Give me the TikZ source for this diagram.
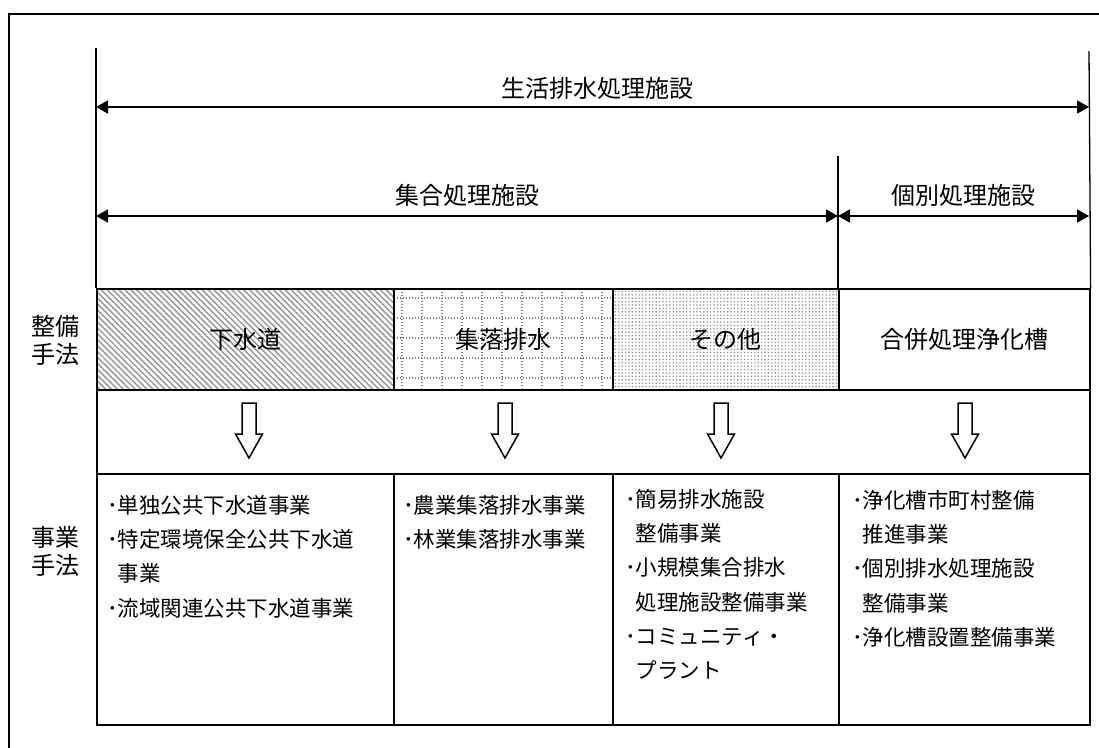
\documentclass[tikz,border=0pt]{standalone}
\usepackage{fontspec}
\newfontfamily\jp{Noto Sans CJK JP}
\usetikzlibrary{arrows.meta,patterns,patterns.meta}

\begin{document}
\begin{tikzpicture}[x=1pt,y=-1pt,>={Triangle[length=12pt,width=13pt]},
  every node/.style={font=\jp\fontsize{24}{28}\selectfont},
  cell/.style={draw,line width=1.6pt,inner sep=0pt,anchor=north west},
  item/.style={font=\jp\fontsize{21.5}{34.3}\selectfont,align=left,anchor=north west,inner sep=0pt},
  bigarrow/.style={draw,line width=1.5pt,fill=white,line join=miter}]
  \useasboundingbox (0,0) rectangle (1099,747);
  \draw[line width=1.3pt] (9,760) -- (9,14) -- (1110,14); % frame

  \coordinate (hidari) at (96,48);   % left edge
  \coordinate (migi) at (1089,51);   % right edge
  \coordinate (naka) at (838,156);   % split
  \coordinate (zenL) at (96,107);
  \coordinate (zenR) at (1089,107);
  \coordinate (shuL) at (96,216);
  \coordinate (shuR) at (838,216);
  \coordinate (kobR) at (1089,216);

  % dotted grid behind the second box
  \foreach \gx in {402,422,...,602}
    \draw[gray,line width=1.3pt,dash pattern=on 1.3pt off 1.7pt] (\gx,289) -- (\gx,388);
  \foreach \gy in {298,318,338,358,378}
    \draw[gray,line width=1.3pt,dash pattern=on 1.3pt off 1.7pt] (394,\gy) -- (611,\gy);

  \node[cell,pattern={Lines[angle=-45,distance=4.2pt,line width=1.4pt]},pattern color=gray!85,
    minimum width=297,minimum height=101] (gesuido) at (96,288) {下水道};
  \node[cell,minimum width=219,minimum height=101] (shuraku) at (393,288) {集落排水};
  \node[cell,pattern={Dots[radius=0.85pt,distance=3.4pt]},pattern color=gray!85,
    minimum width=226,minimum height=101] (sonota) at (612,288) {その他};
  \node[cell,minimum width=251,minimum height=101] (gappei) at (838,288) {合併処理浄化槽};
  \node[cell,minimum width=993,minimum height=84] (yajirushi) at (96,389) {};
  \node[cell,minimum width=297,minimum height=251] (jigyo1) at (96,473) {};
  \node[cell,minimum width=219,minimum height=251] (jigyo2) at (393,473) {};
  \node[cell,minimum width=226,minimum height=251] (jigyo3) at (612,473) {};
  \node[cell,minimum width=251,minimum height=251] (jigyo4) at (838,473) {};

  \draw[line width=1.3pt] (hidari) -- (gesuido.north west);
  \draw[line width=1.3pt] (migi) -- (gappei.north east);
  \draw[line width=1.3pt] (naka) -- (gappei.north west);

  \draw[<->,line width=1.8pt] (zenL) -- (zenR) node[midway,yshift=19pt,xshift=4.5pt] (seikatsu) {生活排水処理施設};
  \draw[<->,line width=1.8pt] (shuL) -- (shuR) node[midway,yshift=21pt] (shugo) {集合処理施設};
  \draw[<->,line width=1.8pt] (shuR) -- (kobR) node[midway,yshift=21pt] (kobetsu) {個別処理施設};

  \foreach \cx in {249,505,721,965}
    \draw[bigarrow] (\cx-7,403) -- (\cx+7,403) -- (\cx+7,434) -- (\cx+13.5,434)
      -- (\cx,458) -- (\cx-13.5,434) -- (\cx-7,434) -- cycle;

  \node[align=center] (seibi) at (55,340) {整備\\手法};
  \node[align=center] (jigyo) at (55,551) {事業\\手法};

  \node[item] (naiyo1) at (107,495) {･単独公共下水道事業\\･特定環境保全公共下水道\\\hphantom{･}事業\\･流域関連公共下水道事業};
  \node[item] (naiyo2) at (403,495) {･農業集落排水事業\\･林業集落排水事業};
  \node[item] (naiyo3) at (625,489) {･簡易排水施設\\\hphantom{･}整備事業\\･小規模集合排水\\\hphantom{･}処理施設整備事業\\･コミュニティ・\\\hphantom{･}プラント};
  \node[item] (naiyo4) at (852,490) {･浄化槽市町村整備\\\hphantom{･}推進事業\\･個別排水処理施設\\\hphantom{･}整備事業\\･浄化槽設置整備事業};
\end{tikzpicture}
\end{document}
